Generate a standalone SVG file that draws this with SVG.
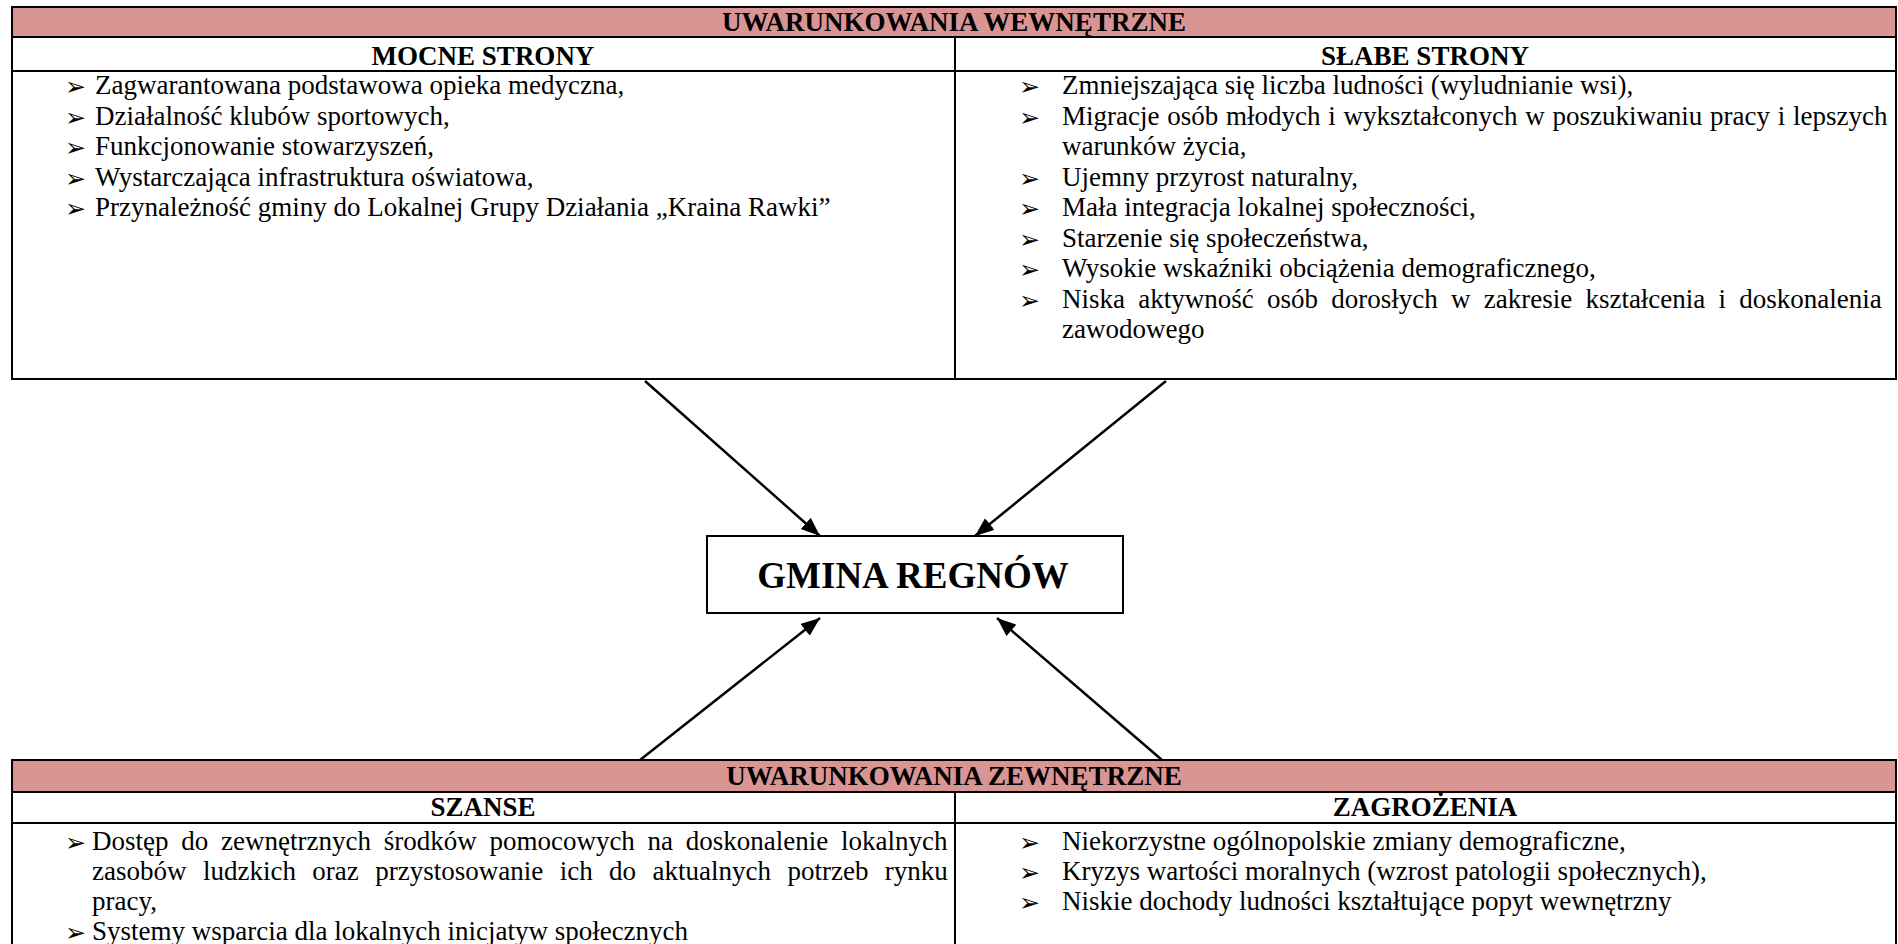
<svg xmlns="http://www.w3.org/2000/svg" width="1898" height="944" viewBox="0 0 1898 944">
<style>
.frame{fill:none;stroke:#000;stroke-width:2}
.pink{fill:#D99594}
.hd{font-family:"Liberation Serif","Times New Roman",serif;font-weight:bold;font-size:27px;fill:#000;text-anchor:middle}
.tx{font-family:"Liberation Serif","Times New Roman",serif;font-size:27px;fill:#000}
.bl{font-family:"DejaVu Sans",sans-serif;font-size:25px;fill:#000}
.big{font-family:"Liberation Serif","Times New Roman",serif;font-weight:bold;font-size:37px;fill:#000;text-anchor:middle}
.conn{stroke:#000;stroke-width:2.5;fill:none;marker-end:url(#ah)}
</style>
<defs>
<marker id="ah" markerUnits="userSpaceOnUse" markerWidth="20" markerHeight="16" refX="19" refY="7.5" orient="auto">
<path d="M0,0 L19,7.5 L0,15 z" fill="#000"/>
</marker>
</defs>
<rect width="1898" height="944" fill="#fff"/>

<g id="table-internal">
<rect class="pink" x="12" y="7" width="1884" height="30"/>
<rect class="frame" x="12" y="7" width="1884" height="372"/>
<line class="frame" x1="12" y1="37" x2="1896" y2="37"/>
<line class="frame" x1="12" y1="71" x2="1896" y2="71"/>
<line class="frame" x1="955" y1="37" x2="955" y2="379"/>
<text class="hd" x="954" y="31">UWARUNKOWANIA WEWNĘTRZNE</text>
<g id="mocne-strony">
<text class="hd" x="483" y="65">MOCNE STRONY</text>
<text class="bl" x="65" y="95">➢</text><text class="tx" x="95" y="94">Zagwarantowana podstawowa opieka medyczna,</text>
<text class="bl" x="65" y="125.5">➢</text><text class="tx" x="95" y="124.5">Działalność klubów sportowych,</text>
<text class="bl" x="65" y="156">➢</text><text class="tx" x="95" y="155">Funkcjonowanie stowarzyszeń,</text>
<text class="bl" x="65" y="186.5">➢</text><text class="tx" x="95" y="185.5">Wystarczająca infrastruktura oświatowa,</text>
<text class="bl" x="65" y="217">➢</text><text class="tx" x="95" y="216">Przynależność gminy do Lokalnej Grupy Działania „Kraina Rawki”</text>
</g>
<g id="slabe-strony">
<text class="hd" x="1425" y="65">SŁABE STRONY</text>
<text class="bl" x="1019" y="95">➢</text><text class="tx" x="1062" y="94">Zmniejszająca się liczba ludności (wyludnianie wsi),</text>
<text class="bl" x="1019" y="125.5">➢</text><text class="tx" x="1062" y="124.5" word-spacing="1">Migracje osób młodych i wykształconych w poszukiwaniu pracy i lepszych</text>
<text class="tx" x="1062" y="155">warunków życia,</text>
<text class="bl" x="1019" y="186.5">➢</text><text class="tx" x="1062" y="185.5">Ujemny przyrost naturalny,</text>
<text class="bl" x="1019" y="217">➢</text><text class="tx" x="1062" y="216">Mała integracja lokalnej społeczności,</text>
<text class="bl" x="1019" y="247.5">➢</text><text class="tx" x="1062" y="246.5">Starzenie się społeczeństwa,</text>
<text class="bl" x="1019" y="278">➢</text><text class="tx" x="1062" y="277">Wysokie wskaźniki obciążenia demograficznego,</text>
<text class="bl" x="1019" y="308.5">➢</text><text class="tx" x="1062" y="307.5" word-spacing="6.5">Niska aktywność osób dorosłych w zakresie kształcenia i doskonalenia</text>
<text class="tx" x="1062" y="338">zawodowego</text>
</g>
</g>

<g id="node-gmina">
<rect class="frame" x="707" y="536" width="416" height="77"/>
<text class="big" x="913" y="588">GMINA REGNÓW</text>
</g>

<g id="connectors">
<line class="conn" x1="645" y1="381" x2="820" y2="536"/>
<line class="conn" x1="1166" y1="381" x2="975" y2="536"/>
<line class="conn" x1="640" y1="760" x2="820" y2="618"/>
<line class="conn" x1="1162" y1="760" x2="997" y2="618"/>
</g>

<g id="table-external">
<rect class="pink" x="12" y="760" width="1884" height="32"/>
<rect class="frame" x="12" y="760" width="1884" height="200"/>
<line class="frame" x1="12" y1="792" x2="1896" y2="792"/>
<line class="frame" x1="12" y1="823" x2="1896" y2="823"/>
<line class="frame" x1="955" y1="792" x2="955" y2="960"/>
<text class="hd" x="954" y="785">UWARUNKOWANIA ZEWNĘTRZNE</text>
<g id="szanse">
<text class="hd" x="483" y="816">SZANSE</text>
<text class="bl" x="65" y="851">➢</text><text class="tx" x="92" y="850" word-spacing="6">Dostęp do zewnętrznych środków pomocowych na doskonalenie lokalnych</text>
<text class="tx" x="92" y="880" word-spacing="9.7">zasobów ludzkich oraz przystosowanie ich do aktualnych potrzeb rynku</text>
<text class="tx" x="92" y="910">pracy,</text>
<text class="bl" x="65" y="941">➢</text><text class="tx" x="92" y="940">Systemy wsparcia dla lokalnych inicjatyw społecznych</text>
</g>
<g id="zagrozenia">
<text class="hd" x="1425" y="816">ZAGROŻENIA</text>
<text class="bl" x="1019" y="851">➢</text><text class="tx" x="1062" y="850">Niekorzystne ogólnopolskie zmiany demograficzne,</text>
<text class="bl" x="1019" y="881">➢</text><text class="tx" x="1062" y="880">Kryzys wartości moralnych (wzrost patologii społecznych),</text>
<text class="bl" x="1019" y="911">➢</text><text class="tx" x="1062" y="910">Niskie dochody ludności kształtujące popyt wewnętrzny</text>
</g>
</g>
</svg>
